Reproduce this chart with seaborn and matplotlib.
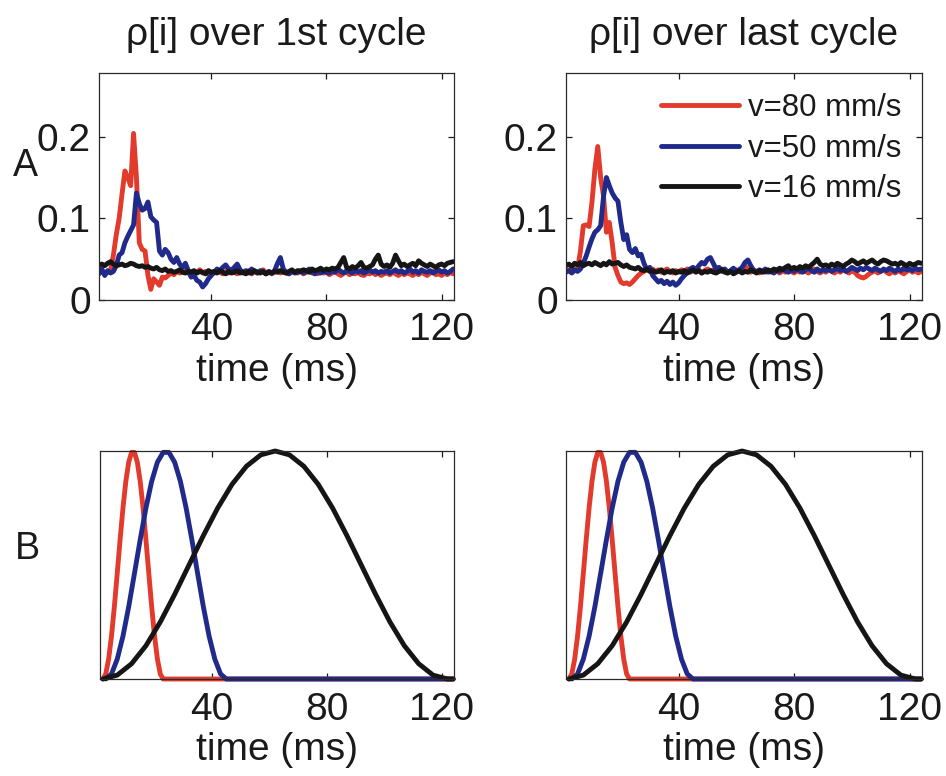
import numpy as np
import matplotlib
matplotlib.use("Agg")
import matplotlib.pyplot as plt
import seaborn as sns

# ---------------- data ----------------
titles = ["ρ[i] over 1st cycle", "ρ[i] over last cycle"]
legend_labels = ["v=80 mm/s", "v=50 mm/s", "v=16 mm/s"]
x_ticks = [40, 80, 120]
y_ticks_top = [0, 0.1, 0.2]
y_tick_labels_top = ["0", "0.1", "0.2"]
row_labels = ["A", "B"]

# Top row: rho[i] (in units of 0.001), sampled every 1 ms from t = 1 ms
red_first = [33, 35, 32, 34, 36,
             55, 80, 100, 130, 158, 150, 140, 204, 150, 70, 62, 60, 30, 13, 26,
             22, 18, 28, 27, 30, 33, 31, 35, 33, 34,
             36, 33, 35, 32, 34, 37, 33, 35, 32, 34,
             33, 36, 34, 32, 35, 33, 38, 34, 32, 35,
             33, 34, 36, 32, 35, 33, 34, 37, 33, 35,
             32, 34, 36, 33, 35, 33, 32, 35, 34, 33,
             35, 32, 34, 36, 33, 34, 32, 35, 33, 34,
             31, 33, 35, 32, 30, 33, 34, 31, 33, 32,
             34, 31, 30, 33, 32, 34, 31, 33, 30, 32,
             33, 31, 34, 32, 30, 33, 31, 33, 32, 30,
             33, 31, 34, 32, 30, 33, 35, 31, 32, 30,
             33, 31, 34, 32]
blue_first = [32, 38, 30, 36, 33,
              35, 42, 55, 58, 70, 78, 85, 92, 131, 118, 110, 112, 120, 102, 98,
              95, 60, 55, 62, 58, 50, 46, 52, 44, 40,
              45, 36, 28, 30, 24, 22, 16, 20, 26, 30,
              34, 38, 36, 40, 43, 38, 35, 40, 44, 37,
              34, 36, 33, 38, 35, 33, 36, 34, 32, 35,
              33, 36, 45, 52, 38, 34, 32, 35, 33, 34,
              36, 33, 35, 38, 34, 32, 36, 33, 35, 34,
              33, 36, 34, 38, 35, 33, 36, 35, 33, 37,
              34, 36, 33, 35, 37, 34, 36, 33, 35, 34,
              36, 33, 35, 37, 34, 36, 33, 35, 38, 34,
              36, 33, 37, 35, 34, 36, 33, 35, 37, 34,
              36, 33, 35, 38]
black_first = [43, 44, 42, 45, 47, 44, 42, 43, 44, 42,
               43, 45, 44, 42, 41, 42, 40, 41, 39, 38,
               40, 37, 36, 38, 35, 36, 34, 35, 37, 34,
               33, 35, 34, 36, 33, 35, 34, 32, 36, 34,
               35, 33, 36, 34, 32, 35, 33, 34, 36, 33,
               34, 32, 35, 33, 36, 34, 33, 35, 32, 34,
               33, 35, 34, 36, 34, 33, 35, 37, 34, 36,
               35, 37, 36, 34, 38, 36, 37, 39, 36, 38,
               37, 39, 38, 40, 46, 52, 40, 38, 41, 39,
               42, 46, 40, 39, 41, 43, 50, 55, 44, 41,
               43, 40, 45, 55, 48, 42, 44, 41, 43, 45,
               42, 48, 45, 43, 41, 44, 42, 40, 43, 44,
               42, 45, 46, 47]

red_last = [35, 37, 34, 36, 38,
            60, 91, 92, 90, 120, 160, 188, 150, 127, 83, 95, 70, 40, 30, 22,
            20, 21, 19, 22, 26, 30, 33, 35, 37, 36,
            38, 35, 37, 34, 36, 38, 35, 33, 36, 34,
            37, 35, 38, 34, 36, 35, 37, 33, 36, 38,
            35, 37, 34, 36, 38, 35, 33, 36, 34, 37,
            35, 38, 42, 36, 34, 37, 35, 33, 36, 34,
            36, 34, 37, 35, 33, 36, 34, 37, 35, 33,
            36, 34, 37, 35, 33, 36, 38, 35, 33, 36,
            34, 37, 35, 33, 36, 34, 37, 35, 33, 36,
            34, 30, 28, 27, 29, 32, 34, 36, 33, 35,
            37, 34, 32, 35, 33, 36, 34, 32, 35, 37,
            34, 36, 33, 35]
blue_last = [34, 36, 33, 37, 35,
             38, 45, 54, 65, 75, 83, 86, 91, 127, 150, 140, 131, 125, 121, 95,
             74, 80, 62, 58, 63, 54, 56, 45, 37, 40,
             30, 26, 22, 24, 20, 23, 19, 22, 18, 21,
             26, 30, 34, 38, 40, 37, 42, 46, 44, 50,
             52, 45, 38, 40, 35, 38, 34, 36, 39, 35,
             37, 40, 46, 49, 42, 36, 34, 37, 35, 38,
             34, 36, 33, 37, 35, 38, 36, 34, 37, 35,
             38, 36, 34, 37, 39, 36, 34, 38, 35, 37,
             36, 38, 35, 37, 39, 36, 38, 35, 37, 40,
             38, 36, 39, 37, 40, 38, 36, 39, 37, 35,
             38, 36, 39, 37, 35, 38, 36, 39, 37, 38,
             36, 39, 37, 38]
black_last = [42, 44, 41, 45, 43, 46, 42, 44, 45, 43,
              46, 44, 42, 45, 43, 47, 44, 45, 46, 43,
              41, 43, 40, 39, 38, 40, 37, 36, 38, 35,
              36, 34, 35, 37, 33, 35, 34, 36, 33, 35,
              34, 36, 33, 35, 37, 34, 36, 33, 35, 34,
              36, 34, 33, 35, 37, 34, 33, 35, 32, 34,
              36, 33, 35, 34, 37, 35, 33, 36, 34, 35,
              37, 35, 38, 36, 39, 37, 40, 42, 38, 40,
              38, 41, 39, 42, 40, 43, 46, 50, 44, 42,
              43, 41, 44, 42, 45, 43, 41, 44, 46, 49,
              47, 44, 46, 48, 45, 47, 49, 46, 44, 47,
              49, 48, 46, 44, 45, 43, 46, 44, 42, 45,
              43, 44, 46, 45]

# Bottom row: normalised pulse profiles (time in ms, value)
red_pulse_t = [2, 3, 4, 5, 6, 7, 8, 9, 10, 11, 12, 13, 14, 15, 16, 17, 18, 19,
               20, 21, 22, 23, 124]
red_pulse_v = [0, .022, .087, .188, .317, .463, .611, .75, .867, .951, .994,
               .994, .951, .867, .75, .611, .463, .317, .188, .087, .022, 0, 0]
blue_pulse_t = [3, 5, 7, 9, 11, 13, 15, 17, 19, 21, 23, 25, 27, 29, 31, 33, 35,
                37, 39, 41, 43, 45, 124]
blue_pulse_v = [0, .022, .087, .188, .317, .463, .611, .75, .867, .951, .994,
                .994, .951, .867, .75, .611, .463, .317, .188, .087, .022, 0, 0]
black_pulse_t = [2, 7, 12, 17, 22, 27, 32, 37, 42, 47, 52, 57, 62, 67, 72, 77,
                 82, 87, 92, 97, 102, 107, 112, 117, 122, 124]
black_pulse_v = [0, .017, .067, .146, .25, .371, .5, .629, .75, .854, .933,
                 .983, 1, .983, .933, .854, .75, .629, .5, .371, .25, .146,
                 .067, .017, 0, 0]

# ---------------- style ----------------
sns.set_theme(style="white")
plt.rcParams["font.family"] = ["Liberation Sans", "DejaVu Sans"]
TEXT = "#1a1a1a"
plt.rcParams["text.color"] = TEXT
plt.rcParams["axes.labelcolor"] = TEXT
plt.rcParams["xtick.color"] = TEXT
plt.rcParams["ytick.color"] = TEXT

colors = ["#e23a2c", "#1f2a8a", "#151515"]
LW = 3.5
FS = 28

fig = plt.figure(figsize=(9.46, 7.76), dpi=100)
W, H = 946, 776


def add_ax(left, top, width, height):
    return fig.add_axes([left / W, 1 - (top + height) / H, width / W, height / H])


axes_top = [add_ax(99, 73, 355, 227), add_ax(566, 73, 356, 227)]
axes_bot = [add_ax(100, 451, 354, 228), add_ax(566, 451, 356, 228)]

top_series = [(red_first, blue_first, black_first), (red_last, blue_last, black_last)]

for i, ax in enumerate(axes_top):
    for j, s in enumerate(top_series[i]):
        t = np.arange(1, len(s) + 1)
        v = np.array(s) / 1000.0
        sns.lineplot(x=t, y=v, color=colors[j], lw=LW, ax=ax,
                     label=legend_labels[j] if i == 1 else None)
    ax.set_xlim(1, 124.3)
    ax.set_ylim(0, 0.278)
    ax.set_yticks(y_ticks_top)
    ax.set_yticklabels(y_tick_labels_top)
    ax.set_title(titles[i], fontsize=FS, pad=20, color=TEXT)

for i, ax in enumerate(axes_bot):
    sns.lineplot(x=red_pulse_t, y=red_pulse_v, color=colors[0], lw=LW, ax=ax,
                 clip_on=False)
    sns.lineplot(x=blue_pulse_t, y=blue_pulse_v, color=colors[1], lw=LW, ax=ax,
                 clip_on=False)
    sns.lineplot(x=black_pulse_t, y=black_pulse_v, color=colors[2], lw=LW, ax=ax,
                 clip_on=False)
    ax.set_xlim(1, 124.3)
    ax.set_ylim(0, 1)
    ax.set_yticks([])

for ax in axes_top + axes_bot:
    ax.set_xticks(x_ticks)
    ax.set_xticklabels([str(v) for v in x_ticks])
    ax.set_xlabel("time (ms)", fontsize=FS, labelpad=3)
    ax.set_ylabel("")
    ax.tick_params(direction="in", length=4, width=0.9, labelsize=FS,
                   top=True, right=True, bottom=True, left=True)
    ax.tick_params(axis="x", pad=9)
    ax.tick_params(axis="y", pad=6)
    for sp in ax.spines.values():
        sp.set_visible(True)
        sp.set_color("#2a2a2a")
        sp.set_linewidth(0.9)

if axes_top[0].get_legend() is not None:
    axes_top[0].get_legend().remove()
leg = axes_top[1].legend(loc="upper right", frameon=False, fontsize=22.5,
                         handlelength=2.5, handletextpad=0.3, labelspacing=0.33,
                         borderaxespad=0.45, borderpad=0.2)
for line in leg.get_lines():
    line.set_linewidth(LW)

fig.text(25 / W, 1 - 166 / H, row_labels[0], fontsize=27, ha="center", va="center")
fig.text(27 / W, 1 - 549 / H, row_labels[1], fontsize=27, ha="center", va="center")

fig.savefig("out.png", dpi=100, facecolor="white")
